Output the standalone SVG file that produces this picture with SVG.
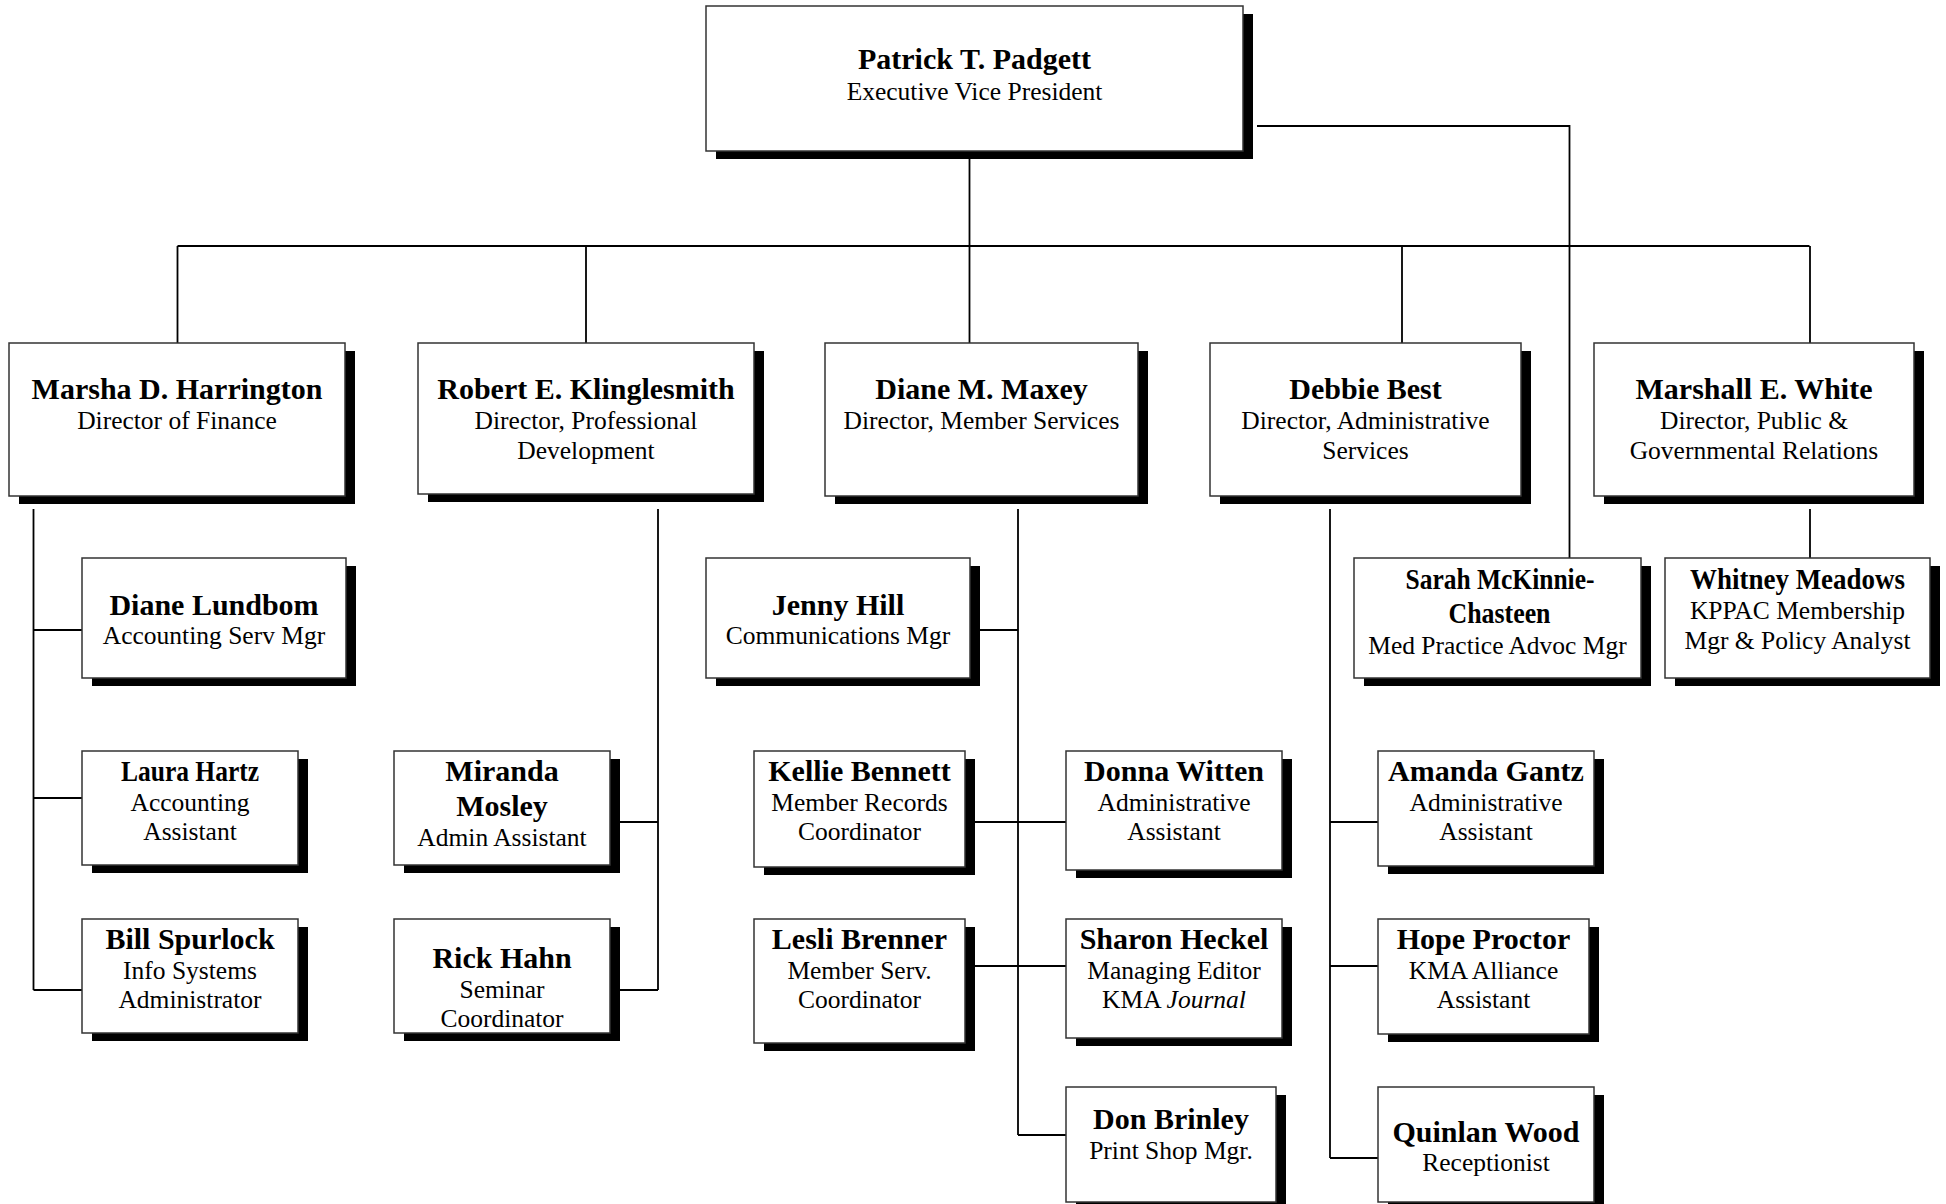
<svg xmlns="http://www.w3.org/2000/svg" width="1946" height="1204" viewBox="0 0 1946 1204">
<style>
.sh{fill:#000}
.bx{fill:#fff;stroke:#333;stroke-width:1.5}
.nm{font-family:"Liberation Serif",serif;font-weight:bold;font-size:30px;text-anchor:middle;fill:#000}
.sb{font-family:"Liberation Serif",serif;font-size:25.5px;text-anchor:middle;fill:#000}
.cn{stroke:#000;stroke-width:1.8;fill:none}
</style>
<rect width="1946" height="1204" fill="#fff"/>
<g id="connectors" class="cn">
<path d="M969.5 151V246M177.5 246H1809.5M177.5 246V343M586 246V343M969.5 246V343M1402 246V343M1810 246V343"/>
<path d="M1257 126H1569.5V558"/>
<path d="M33.5 509V990M33.5 630H82M33.5 798H82M33.5 990H82"/>
<path d="M658 509V990M610 822H658M610 990H658"/>
<path d="M1018 509V1135M970 630H1018M965 822H1066M965 966H1066M1018 1135H1066"/>
<path d="M1330 509V1158M1330 822H1378M1330 966H1378M1330 1158H1378"/>
<path d="M1810 509V558"/>
</g>
<g id="n-padgett"><rect class="sh" x="716" y="14" width="537" height="145"/><rect class="bx" x="706" y="6" width="537" height="145"/>
<text class="nm" x="974.5" y="68.5">Patrick T. Padgett</text><text class="sb" x="974.5" y="100">Executive Vice President</text></g>
<g id="n-harrington"><rect class="sh" x="19" y="351" width="336" height="153"/><rect class="bx" x="9" y="343" width="336" height="153"/>
<text class="nm" x="177" y="398.5">Marsha D. Harrington</text><text class="sb" x="177" y="429">Director of Finance</text></g>
<g id="n-klinglesmith"><rect class="sh" x="428" y="351" width="336" height="151"/><rect class="bx" x="418" y="343" width="336" height="151"/>
<text class="nm" x="586" y="398.5">Robert E. Klinglesmith</text><text class="sb" x="586" y="429">Director, Professional</text><text class="sb" x="586" y="459">Development</text></g>
<g id="n-maxey"><rect class="sh" x="835" y="351" width="313" height="153"/><rect class="bx" x="825" y="343" width="313" height="153"/>
<text class="nm" x="981.5" y="398.5">Diane M. Maxey</text><text class="sb" x="981.5" y="429">Director, Member Services</text></g>
<g id="n-best"><rect class="sh" x="1220" y="351" width="311" height="153"/><rect class="bx" x="1210" y="343" width="311" height="153"/>
<text class="nm" x="1365.5" y="398.5">Debbie Best</text><text class="sb" x="1365.5" y="429">Director, Administrative</text><text class="sb" x="1365.5" y="459">Services</text></g>
<g id="n-white"><rect class="sh" x="1604" y="351" width="320" height="153"/><rect class="bx" x="1594" y="343" width="320" height="153"/>
<text class="nm" x="1754" y="398.5">Marshall E. White</text><text class="sb" x="1754" y="429">Director, Public &amp;</text><text class="sb" x="1754" y="459">Governmental Relations</text></g>
<g id="n-lundbom"><rect class="sh" x="92" y="566" width="264" height="120"/><rect class="bx" x="82" y="558" width="264" height="120"/>
<text class="nm" x="214" y="614.5">Diane Lundbom</text><text class="sb" x="214" y="644">Accounting Serv Mgr</text></g>
<g id="n-hill"><rect class="sh" x="716" y="566" width="264" height="120"/><rect class="bx" x="706" y="558" width="264" height="120"/>
<text class="nm" x="838" y="614.5">Jenny Hill</text><text class="sb" x="838" y="644">Communications Mgr</text></g>
<g id="n-mckinnie"><rect class="sh" x="1364" y="566" width="287" height="120"/><rect class="bx" x="1354" y="558" width="287" height="120"/>
<text class="nm" x="1500" y="588.5" textLength="189" lengthAdjust="spacingAndGlyphs">Sarah McKinnie-</text><text class="nm" x="1499.5" y="623" textLength="102" lengthAdjust="spacingAndGlyphs">Chasteen</text><text class="sb" x="1497.5" y="654">Med Practice Advoc Mgr</text></g>
<g id="n-meadows"><rect class="sh" x="1675" y="566" width="265" height="120"/><rect class="bx" x="1665" y="558" width="265" height="120"/>
<text class="nm" x="1797.5" y="588.5" textLength="215" lengthAdjust="spacingAndGlyphs">Whitney Meadows</text><text class="sb" x="1797.5" y="619">KPPAC Membership</text><text class="sb" x="1797.5" y="648.5">Mgr &amp; Policy Analyst</text></g>
<g id="n-hartz"><rect class="sh" x="92" y="759" width="216" height="114"/><rect class="bx" x="82" y="751" width="216" height="114"/>
<text class="nm" x="190" y="781" textLength="138" lengthAdjust="spacingAndGlyphs">Laura Hartz</text><text class="sb" x="190" y="811">Accounting</text><text class="sb" x="190" y="840">Assistant</text></g>
<g id="n-spurlock"><rect class="sh" x="92" y="927" width="216" height="114"/><rect class="bx" x="82" y="919" width="216" height="114"/>
<text class="nm" x="190" y="948.5">Bill Spurlock</text><text class="sb" x="190" y="979">Info Systems</text><text class="sb" x="190" y="1007.5">Administrator</text></g>
<g id="n-mosley"><rect class="sh" x="404" y="759" width="216" height="114"/><rect class="bx" x="394" y="751" width="216" height="114"/>
<text class="nm" x="502" y="781">Miranda</text><text class="nm" x="502" y="815.5">Mosley</text><text class="sb" x="502" y="846">Admin Assistant</text></g>
<g id="n-hahn"><rect class="sh" x="404" y="927" width="216" height="114"/><rect class="bx" x="394" y="919" width="216" height="114"/>
<text class="nm" x="502" y="968">Rick Hahn</text><text class="sb" x="502" y="997.5">Seminar</text><text class="sb" x="502" y="1027">Coordinator</text></g>
<g id="n-bennett"><rect class="sh" x="764" y="759" width="211" height="116"/><rect class="bx" x="754" y="751" width="211" height="116"/>
<text class="nm" x="859.5" y="781">Kellie Bennett</text><text class="sb" x="859.5" y="811">Member Records</text><text class="sb" x="859.5" y="840">Coordinator</text></g>
<g id="n-brenner"><rect class="sh" x="764" y="927" width="211" height="124"/><rect class="bx" x="754" y="919" width="211" height="124"/>
<text class="nm" x="859.5" y="948.5">Lesli Brenner</text><text class="sb" x="859.5" y="979">Member Serv.</text><text class="sb" x="859.5" y="1007.5">Coordinator</text></g>
<g id="n-witten"><rect class="sh" x="1076" y="759" width="216" height="119"/><rect class="bx" x="1066" y="751" width="216" height="119"/>
<text class="nm" x="1174" y="781">Donna Witten</text><text class="sb" x="1174" y="811">Administrative</text><text class="sb" x="1174" y="840">Assistant</text></g>
<g id="n-heckel"><rect class="sh" x="1076" y="927" width="216" height="119"/><rect class="bx" x="1066" y="919" width="216" height="119"/>
<text class="nm" x="1174" y="948.5">Sharon Heckel</text><text class="sb" x="1174" y="979">Managing Editor</text><text class="sb" x="1174" y="1007.5">KMA <tspan font-style="italic">Journal</tspan></text></g>
<g id="n-brinley"><rect class="sh" x="1076" y="1095" width="210" height="115"/><rect class="bx" x="1066" y="1087" width="210" height="115"/>
<text class="nm" x="1171" y="1128.5">Don Brinley</text><text class="sb" x="1171" y="1159">Print Shop Mgr.</text></g>
<g id="n-gantz"><rect class="sh" x="1388" y="759" width="216" height="115"/><rect class="bx" x="1378" y="751" width="216" height="115"/>
<text class="nm" x="1486" y="781">Amanda Gantz</text><text class="sb" x="1486" y="811">Administrative</text><text class="sb" x="1486" y="840">Assistant</text></g>
<g id="n-proctor"><rect class="sh" x="1388" y="927" width="211" height="115"/><rect class="bx" x="1378" y="919" width="211" height="115"/>
<text class="nm" x="1483.5" y="948.5">Hope Proctor</text><text class="sb" x="1483.5" y="979">KMA Alliance</text><text class="sb" x="1483.5" y="1007.5">Assistant</text></g>
<g id="n-wood"><rect class="sh" x="1388" y="1095" width="216" height="115"/><rect class="bx" x="1378" y="1087" width="216" height="115"/>
<text class="nm" x="1486" y="1142">Quinlan Wood</text><text class="sb" x="1486" y="1171">Receptionist</text></g>
</svg>
